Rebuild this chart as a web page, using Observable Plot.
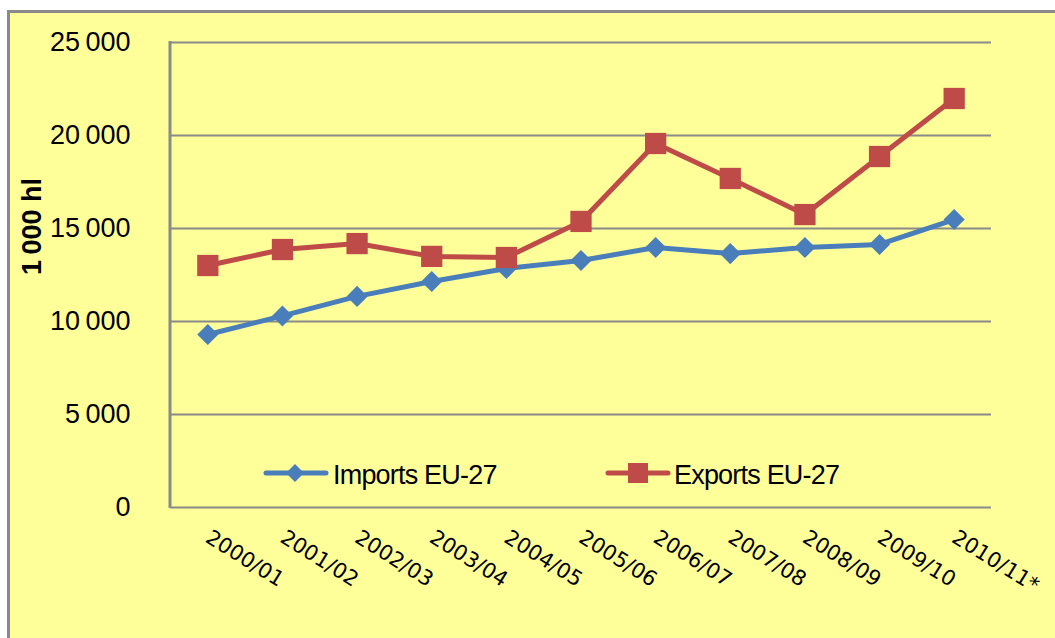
<!DOCTYPE html>
<html>
<head>
<meta charset="utf-8">
<script src="https://cdn.jsdelivr.net/npm/d3@7"></script>
<script src="https://cdn.jsdelivr.net/npm/@observablehq/plot@0.6"></script>
<style>
  html, body { margin: 0; padding: 0; background: #ffffff; }
  #wrap { position: relative; width: 1055px; height: 638px; overflow: hidden; }
  #panel { position: absolute; left: 7px; top: 10px; width: 1060px; height: 640px;
           background: #FFFF99; border-left: 3px solid #8a8a8a; border-top: 3px solid #8a8a8a; }
  #chart { position: absolute; left: 0; top: 0; }
  .leg { position: absolute; font-family: "Liberation Sans", Arial, sans-serif; font-size: 27px;
         letter-spacing: -0.8px; color: #000; line-height: 1; }
  .legsym { position: absolute; }
</style>
</head>
<body>
<div id="wrap">
  <div id="panel"></div>
  <div id="chart"></div>
  <svg class="legsym" style="left:262px;top:461px" width="68" height="24">
    <line x1="4" y1="12" x2="64" y2="12" stroke="#4A7EBB" stroke-width="5" stroke-linecap="round"/>
    <path d="M33,3 L42,12 L33,21 L24,12 Z" fill="#4A7EBB"/>
  </svg>
  <div class="leg" style="left:333px;top:462px">Imports EU-27</div>
  <svg class="legsym" style="left:604px;top:461px" width="68" height="24">
    <line x1="4" y1="12" x2="64" y2="12" stroke="#BE4B48" stroke-width="5" stroke-linecap="round"/>
    <rect x="24" y="2" width="20" height="20" fill="#BE4B48"/>
  </svg>
  <div class="leg" style="left:674px;top:462px">Exports EU-27</div>
</div>
<script>
const seasons = ["2000/01", "2001/02", "2002/03", "2003/04", "2004/05", "2005/06",
                 "2006/07", "2007/08", "2008/09", "2009/10", "2010/11*"];
const importsEU = [9300, 10300, 11350, 12150, 12850, 13280, 13980, 13650, 13980, 14140, 15480];
const exportsEU = [13010, 13870, 14190, 13500, 13440, 15380, 19570, 17690, 15750, 18870, 21990];
const yTicks = [0, 5000, 10000, 15000, 20000, 25000];
const yTitle = "1\u2009000 hl";

const importsData = seasons.map((s, i) => ({season: s, value: importsEU[i]}));
const exportsData = seasons.map((s, i) => ({season: s, value: exportsEU[i]}));

const blue = "#4A7EBB";
const red = "#BE4B48";
const grid = "#8a8a8a";

const fmt = d => d3.format(",")(d).replace(/,/g, "\u2009");

const leftAxisLine = (index, scales, values, dimensions) => {
  const {marginLeft, marginTop, height, marginBottom} = dimensions;
  return d3.create("svg:line")
    .attr("x1", marginLeft).attr("x2", marginLeft)
    .attr("y1", marginTop - 1).attr("y2", height - marginBottom + 1)
    .attr("stroke", grid).attr("stroke-width", 3)
    .node();
};

const chart = Plot.plot({
  width: 1055,
  height: 638,
  marginLeft: 170,
  marginRight: 64,
  marginTop: 42,
  marginBottom: 131,
  style: {background: "transparent", overflow: "visible"},
  x: {type: "point", domain: seasons, padding: 0.5, round: false},
  y: {domain: [0, 25000]},
  marks: [
    Plot.gridY(yTicks, {stroke: grid, strokeOpacity: 1, strokeWidth: 2}),
    leftAxisLine,
    Plot.axisY(yTicks, {tickSize: 0, tickPadding: 40, tickFormat: fmt, fontSize: 27,
                        fontFamily: "Liberation Sans", fill: "#000", label: null}),
    Plot.axisX({tickSize: 0, tickPadding: 28, tickRotate: 32, fontSize: 21,
                fontFamily: "DejaVu Sans", fill: "#000", label: null}),
    Plot.text([yTitle], {frameAnchor: "left", dx: -138, rotate: -90, fontWeight: "bold",
                         fontSize: 27, fontFamily: "Liberation Sans", fill: "#000"}),
    Plot.line(importsData, {x: "season", y: "value", stroke: blue, strokeWidth: 5}),
    Plot.line(exportsData, {x: "season", y: "value", stroke: red, strokeWidth: 5}),
    Plot.dot(importsData, {x: "season", y: "value", symbol: "diamond2", r: 9.5, fill: blue, stroke: "none"}),
    Plot.dot(exportsData, {x: "season", y: "value", symbol: "square", r: 12, fill: red, stroke: "none"})
  ]
});
document.getElementById("chart").appendChild(chart);
</script>
</body>
</html>
